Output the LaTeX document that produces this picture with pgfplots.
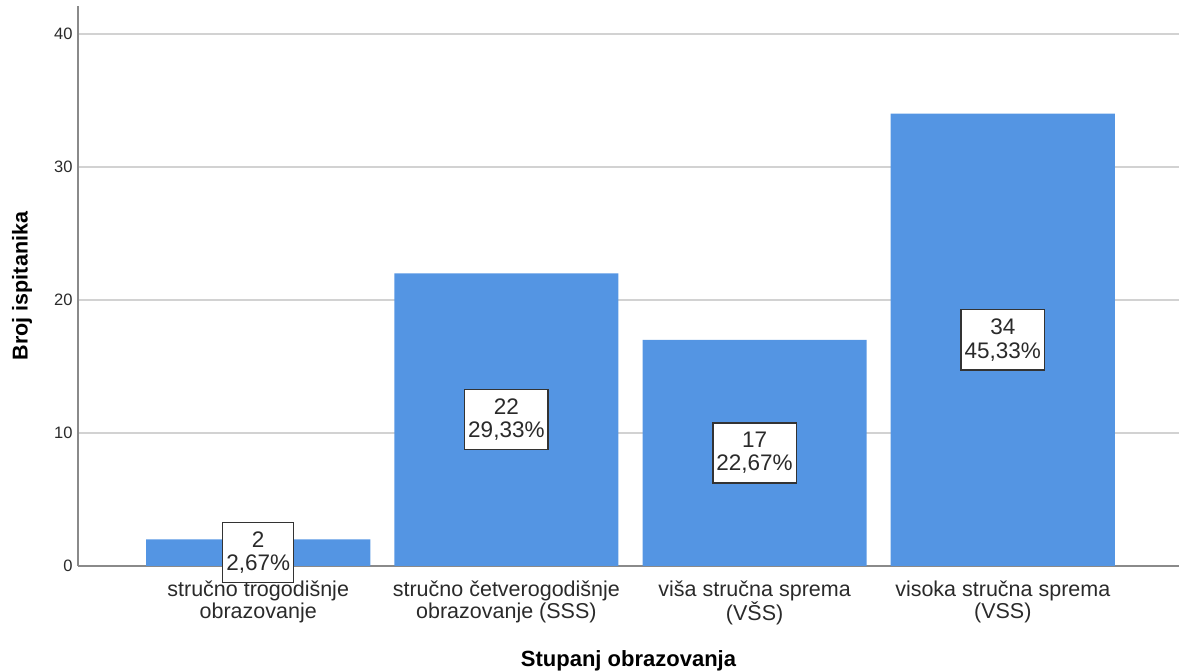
\documentclass[border=0pt]{standalone}
\usepackage{pgfplots}
\usepackage{pgfplotstable}
\pgfplotsset{compat=1.18}
\usepackage{fontspec}
\setmainfont{Liberation Sans}
\definecolor{barblue}{HTML}{5495E3}
\definecolor{gridgray}{HTML}{D2D2D2}
\definecolor{axgray}{HTML}{8A8A8A}
\definecolor{txt}{HTML}{2A2A2A}
\definecolor{boxline}{HTML}{333333}

% x: category, v: count, h: label position (middle of bar), pct: share
\pgfplotstableread{
x v h pct
0 2 1 2,67
1 22 11 29,33
2 17 8.5 22,67
3 34 17 45,33
}\data

\begin{document}
\begin{tikzpicture}
\useasboundingbox (0,0) rectangle (1179pt,671pt);
\begin{axis}[
  at={(78pt,105pt)}, anchor=south west,
  scale only axis, width=1101pt, height=560pt,
  xmin=-0.726, xmax=3.71, ymin=0, ymax=42.1,
  axis x line*=bottom, axis y line*=left,
  axis line style={axgray, line width=1.5pt, -},
  major tick length=0pt,
  ymajorgrids,
  grid style={gridgray, line width=1.4pt},
  ytick={0,10,20,30,40},
  yticklabel style={font=\fontsize{16.5}{16.5}\selectfont, text=txt, xshift=-2pt},
  /pgf/number format/assume math mode=true,
  xtick={0,1,2,3},
  xticklabels={{stručno trogodišnje\\obrazovanje},{stručno četverogodišnje\\obrazovanje (SSS)},{viša stručna sprema\\(VŠS)},{visoka stručna sprema\\(VSS)}},
  xticklabel style={align=center, font=\fontsize{21.5}{22}\selectfont, text=txt, yshift=-11pt},
  xlabel={Stupanj obrazovanja},
  xlabel style={font=\bfseries\fontsize{22}{22}\selectfont, at={(axis description cs:0.5,0)}, anchor=base, yshift=-101pt},
  ylabel={Broj ispitanika},
  ylabel style={font=\bfseries\fontsize{21.5}{22}\selectfont, at={(axis description cs:0,0.5)}, anchor=center, yshift=56pt},
  clip=false,
]
\addplot[ybar, bar width=0.903, fill=barblue, draw=none] table[x=x, y=v] {\data};
\addplot[draw=none, mark=none,
  point meta=explicit symbolic,
  visualization depends on={\thisrow{v} \as \vv},
  nodes near coords={\pgfmathprintnumber[assume math mode=true]{\vv}\\\pgfplotspointmeta\%},
  nodes near coords align={center},
  every node near coord/.append style={anchor=center, align=center, fill=white, draw=boxline, line width=1.3pt, text=txt, font=\fontsize{22.5}{23.5}\selectfont, inner xsep=3.5pt, inner ysep=9pt},
] table[x=x, y=h, meta=pct] {\data};
\end{axis}
\end{tikzpicture}
\end{document}
